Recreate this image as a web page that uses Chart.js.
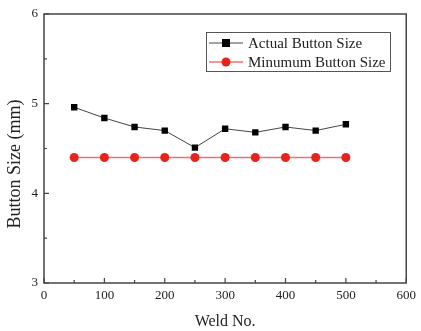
<!DOCTYPE html>
<html>
<head>
<meta charset="utf-8">
<script src="https://cdn.jsdelivr.net/npm/chart.js@4.4.0/dist/chart.umd.min.js"></script>
<style>
  html, body { margin: 0; padding: 0; background: #fff; }
  #wrap { width: 421px; height: 331px; }
</style>
</head>
<body>
<div id="wrap"><canvas id="c"></canvas></div>
<script>
// Datos
const weldNo      = [50, 100, 150, 200, 250, 300, 350, 400, 450, 500];
const actualSize  = [4.96, 4.84, 4.74, 4.70, 4.51, 4.72, 4.68, 4.74, 4.70, 4.77];
const minimumSize = [4.40, 4.40, 4.40, 4.40, 4.40, 4.40, 4.40, 4.40, 4.40, 4.40];
const xTicks = [0, 100, 200, 300, 400, 500, 600];
const yTicks = [3, 4, 5, 6];
const yTitle = 'Button Size (mm)';

const SERIF = "'Liberation Serif', 'Times New Roman', serif";
const INK = '#222';

// marco + ticks hacia adentro (mayores y menores)
const frameTicks = {
  id: 'frameTicks',
  afterDraw(chart) {
    const {ctx, chartArea: a, scales: {x, y}} = chart;
    ctx.save();
    ctx.strokeStyle = '#444';
    ctx.lineWidth = 1.5;
    ctx.strokeRect(a.left, a.top, a.right - a.left, a.bottom - a.top);
    ctx.lineWidth = 1.2;
    ctx.beginPath();
    for (let v = 0; v <= 600; v += 50) {
      const px = x.getPixelForValue(v);
      const len = v % 100 === 0 ? 5 : 3;
      ctx.moveTo(px, a.bottom);
      ctx.lineTo(px, a.bottom - len);
    }
    for (let v = 3; v <= 6; v += 0.5) {
      const py = y.getPixelForValue(v);
      const len = v % 1 === 0 ? 5 : 3;
      ctx.moveTo(a.left, py);
      ctx.lineTo(a.left + len, py);
    }
    ctx.stroke();

    // título del eje Y (algo por debajo del centro, como en el original)
    ctx.translate(15, 164);
    ctx.rotate(-Math.PI / 2);
    ctx.fillStyle = INK;
    ctx.font = '18px ' + SERIF;
    ctx.textAlign = 'center';
    ctx.textBaseline = 'middle';
    ctx.fillText(yTitle, 0, 0);
    ctx.restore();
  }
};

// leyenda dentro del área
const boxLegend = {
  id: 'boxLegend',
  afterDraw(chart) {
    const ctx = chart.ctx;
    const bx = 206, by = 32, bw = 184, bh = 39;
    ctx.save();
    ctx.strokeStyle = '#555';
    ctx.lineWidth = 1;
    ctx.fillStyle = '#fff';
    ctx.fillRect(bx, by, bw, bh);
    ctx.strokeRect(bx + 0.5, by + 0.5, bw, bh);
    ctx.font = '15px ' + SERIF;
    ctx.textBaseline = 'middle';
    chart.data.datasets.forEach((ds, i) => {
      const cy = by + 11 + i * 19;
      ctx.strokeStyle = ds.borderColor;
      ctx.lineWidth = ds.borderWidth;
      ctx.beginPath();
      ctx.moveTo(bx + 3, cy);
      ctx.lineTo(bx + 37, cy);
      ctx.stroke();
      ctx.fillStyle = ds.pointBackgroundColor;
      if (ds.pointStyle === 'rect') {
        ctx.fillRect(bx + 20 - 4, cy - 4, 8, 8);
      } else {
        ctx.beginPath();
        ctx.arc(bx + 20, cy, 4.5, 0, Math.PI * 2);
        ctx.fill();
      }
      ctx.fillStyle = INK;
      ctx.fillText(ds.label, bx + 42, cy + 1);
    });
    ctx.restore();
  }
};

new Chart(document.getElementById('c'), {
  type: 'line',
  data: {
    datasets: [
      {
        label: 'Actual Button Size',
        data: weldNo.map((w, i) => ({x: w, y: actualSize[i]})),
        borderColor: '#444',
        borderWidth: 1,
        pointStyle: 'rect',
        pointRadius: 4.5,
        pointBackgroundColor: '#000',
        pointBorderColor: '#000',
        pointBorderWidth: 0,
        tension: 0,
      },
      {
        label: 'Minumum Button Size',
        data: weldNo.map((w, i) => ({x: w, y: minimumSize[i]})),
        borderColor: '#f07070',
        borderWidth: 1.5,
        pointStyle: 'circle',
        pointRadius: 4.5,
        pointBackgroundColor: '#e8231c',
        pointBorderColor: '#e8231c',
        pointBorderWidth: 0,
        tension: 0,
      },
    ],
  },
  options: {
    responsive: true,
    maintainAspectRatio: false,
    animation: false,
    layout: {padding: {top: 14, right: 11, left: 0, bottom: 0}},
    plugins: {
      legend: {display: false},
      tooltip: {enabled: false},
    },
    scales: {
      x: {
        type: 'linear',
        min: 0, max: 600,
        afterBuildTicks: s => { s.ticks = xTicks.map(v => ({value: v})); },
        afterFit: s => { s.height = 48; },
        grid: {display: false, drawTicks: false},
        border: {display: false},
        ticks: {color: INK, font: {family: SERIF, size: 13}, padding: 5, maxRotation: 0},
        title: {display: true, text: 'Weld No.', color: INK, font: {family: SERIF, size: 16}, padding: 0},
      },
      y: {
        min: 3, max: 6,
        afterBuildTicks: s => { s.ticks = yTicks.map(v => ({value: v})); },
        afterFit: s => { s.width = 44; },
        grid: {display: false, drawTicks: false},
        border: {display: false},
        ticks: {color: INK, font: {family: SERIF, size: 13}, padding: 6},
        title: {display: false},
      },
    },
  },
  plugins: [frameTicks, boxLegend],
});
</script>
</body>
</html>
